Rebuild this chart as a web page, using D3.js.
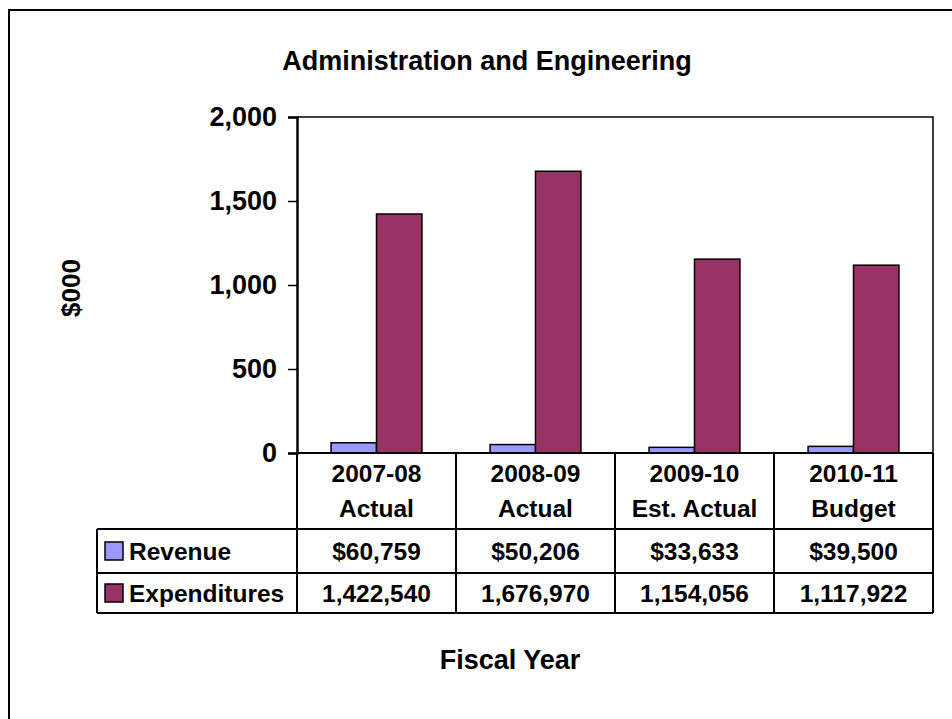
<!DOCTYPE html>
<html>
<head>
<meta charset="utf-8">
<script src="https://cdn.jsdelivr.net/npm/d3@7"></script>
<style>
  body { margin: 0; background: #fff; }
  svg { display: block; font-family: "Liberation Sans", Arial, sans-serif; font-weight: bold; }
</style>
</head>
<body>
<div id="chart"></div>
<script>
(function () {
    'use strict';

    // data
    const categories = ["2007-08 Actual", "2008-09 Actual", "2009-10 Est. Actual", "2010-11 Budget"];
    const categoryLines = [["2007-08", "Actual"], ["2008-09", "Actual"], ["2009-10", "Est. Actual"], ["2010-11", "Budget"]];
    const seriesNames = ["Revenue", "Expenditures"];
    const revenue = [60759, 50206, 33633, 39500];
    const expenditures = [1422540, 1676970, 1154056, 1117922];
    const yTicks = [0, 500, 1000, 1500, 2000];
    const colors = ["#9999ff", "#993366"];

    const width = 952, height = 719;
    const plot = { left: 297, right: 933, top: 117, bottom: 453 };
    const tableLeft = 97;
    const rowLines = [453, 529, 573, 613];

    const svg = d3.select("#chart").append("svg")
        .attr("width", width)
        .attr("height", height);

    // outer chart border (runs off the bottom/right)
    svg.append("rect")
        .attr("x", 9).attr("y", 10)
        .attr("width", 980).attr("height", 760)
        .attr("fill", "#fff")
        .attr("stroke", "#000")
        .attr("stroke-width", 2);

    const x0 = d3.scaleBand().domain(categories).range([plot.left, plot.right]);
    const x1 = d3.scaleBand().domain(seriesNames).range([0, x0.bandwidth()]).paddingOuter(0.75);
    const y = d3.scaleLinear().domain([0, 2000]).range([plot.bottom, plot.top]);

    svg.append("text")
        .attr("x", 487).attr("y", 70)
        .attr("text-anchor", "middle")
        .style("font-size", "27px")
        .text("Administration and Engineering");

    // plot frame
    svg.append("path")
        .attr("d", `M${plot.left},${plot.top}H${plot.right}V${plot.bottom}`)
        .attr("fill", "none").attr("stroke", "#000").attr("stroke-width", 1.5);

    // y axis
    const yAxis = svg.append("g")
        .attr("transform", `translate(${plot.left},0)`)
        .call(d3.axisLeft(y).tickValues(yTicks).tickFormat(d3.format(",")).tickSize(9).tickPadding(11));
    yAxis.select(".domain").attr("stroke-width", 2.5);
    yAxis.selectAll(".tick line").attr("stroke-width", 1.5);
    yAxis.selectAll("text")
        .attr("fill", "#000")
        .style("font-size", "27px")
        .style("font-family", "Liberation Sans, Arial, sans-serif")
        .style("font-weight", "bold");

    svg.append("text")
        .attr("transform", "translate(80,288) rotate(-90)")
        .attr("text-anchor", "middle")
        .style("font-size", "26px")
        .text("$000");

    // bars
    const rows = categories.map((c, i) => ({ cat: c, values: [revenue[i], expenditures[i]] }));
    const groups = svg.selectAll("g.grp")
        .data(rows)
        .enter().append("g")
        .attr("class", "grp")
        .attr("transform", d => `translate(${x0(d.cat)},0)`);
    groups.selectAll("rect")
        .data(d => d.values.map((v, k) => ({ s: seriesNames[k], v: v / 1000, k: k })))
        .enter().append("rect")
        .attr("x", d => x1(d.s))
        .attr("width", x1.bandwidth())
        .attr("y", d => y(d.v))
        .attr("height", d => y(0) - y(d.v))
        .attr("fill", d => colors[d.k])
        .attr("stroke", "#000")
        .attr("stroke-width", 1.5);

    // x axis line on top of bars
    svg.append("line")
        .attr("x1", plot.left).attr("x2", plot.right)
        .attr("y1", plot.bottom).attr("y2", plot.bottom)
        .attr("stroke", "#000").attr("stroke-width", 2);

    // data table
    const grid = svg.append("g").attr("stroke", "#000").attr("stroke-width", 2);
    rowLines.slice(1).forEach(yy => {
        grid.append("line").attr("x1", tableLeft).attr("x2", plot.right).attr("y1", yy).attr("y2", yy);
    });
    grid.append("line").attr("x1", tableLeft).attr("x2", tableLeft).attr("y1", rowLines[1]).attr("y2", rowLines[3]);
    const colEdges = categories.map(c => x0(c)).concat([plot.right]);
    colEdges.forEach(xx => {
        grid.append("line").attr("x1", xx).attr("x2", xx).attr("y1", rowLines[0]).attr("y2", rowLines[3]);
    });

    categories.forEach((c, i) => {
        const cx = x0(c) + x0.bandwidth() / 2;
        const t = svg.append("text").attr("text-anchor", "middle").style("font-size", "24.5px");
        t.append("tspan").attr("x", cx).attr("y", 482).text(categoryLines[i][0]);
        t.append("tspan").attr("x", cx).attr("y", 517).text(categoryLines[i][1]);
    });

    const fmtRev = d3.format("$,");
    const fmtExp = d3.format(",");
    const tableRows = [
        { name: seriesNames[0], vals: revenue.map(fmtRev), color: colors[0] },
        { name: seriesNames[1], vals: expenditures.map(fmtExp), color: colors[1] }
    ];
    tableRows.forEach((r, j) => {
        const top = rowLines[j + 1], bot = rowLines[j + 2];
        const mid = (top + bot) / 2;
        svg.append("rect")
            .attr("x", 105).attr("y", mid - 9)
            .attr("width", 18).attr("height", 18)
            .attr("fill", r.color).attr("stroke", "#000").attr("stroke-width", 1.5);
        svg.append("text")
            .attr("x", 129).attr("y", mid + 9)
            .style("font-size", "24.5px")
            .text(r.name);
        r.vals.forEach((v, i) => {
            svg.append("text")
                .attr("x", x0(categories[i]) + x0.bandwidth() / 2)
                .attr("y", mid + 9)
                .attr("text-anchor", "middle")
                .style("font-size", "24.5px")
                .text(v);
        });
    });

    svg.append("text")
        .attr("x", 510).attr("y", 669)
        .attr("text-anchor", "middle")
        .style("font-size", "27px")
        .text("Fiscal Year");
})();
</script>
</body>
</html>
